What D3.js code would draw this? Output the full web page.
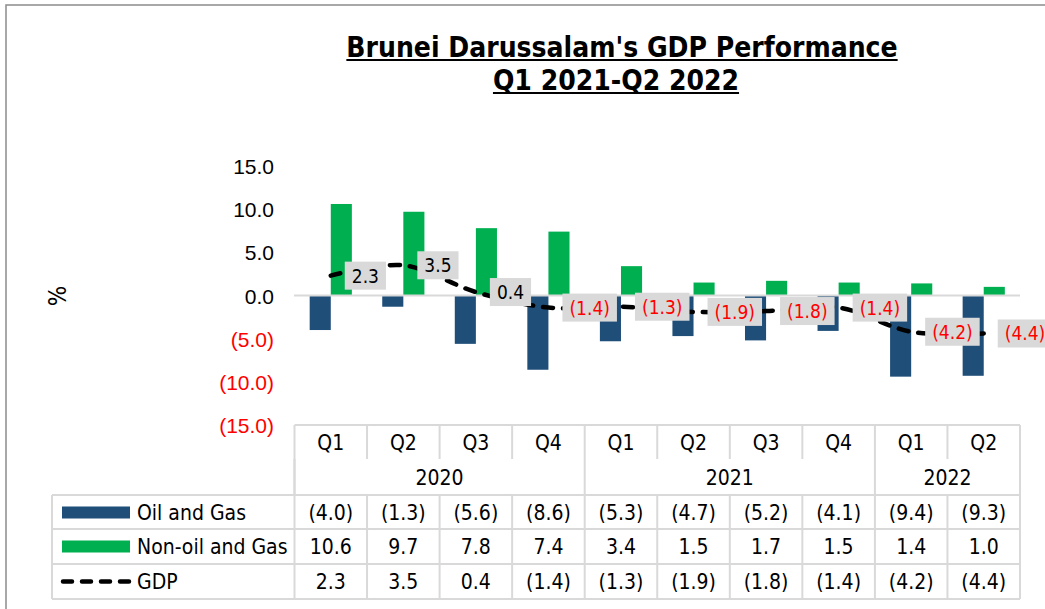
<!DOCTYPE html>
<html>
<head>
<meta charset="utf-8">
<script src="https://cdn.jsdelivr.net/npm/d3@7"></script>
<style>
  body { margin: 0; background: #fff; }
  svg { display: block; font-family: "DejaVu Sans Condensed", "DejaVu Sans", sans-serif; }
</style>
</head>
<body>
<div id="plot"></div>
<script>
const quarters = ["Q1", "Q2", "Q3", "Q4", "Q1", "Q2", "Q3", "Q4", "Q1", "Q2"];
const years = [{ year: "2020", from: 0, to: 4 }, { year: "2021", from: 4, to: 8 }, { year: "2022", from: 8, to: 10 }];
const oilGas = [-4.0, -1.3, -5.6, -8.6, -5.3, -4.7, -5.2, -4.1, -9.4, -9.3];
const nonOilGas = [10.6, 9.7, 7.8, 7.4, 3.4, 1.5, 1.7, 1.5, 1.4, 1.0];
const gdp = [2.3, 3.5, 0.4, -1.4, -1.3, -1.9, -1.8, -1.4, -4.2, -4.4];
const yTicks = [15, 10, 5, 0, -5, -10, -15];

const width = 1045, height = 609;
const oilColor = "#1f4e79", greenColor = "#00b050", gridColor = "#d9d9d9";
const fmt = v => v < 0 ? `(${Math.abs(v).toFixed(1)})` : v.toFixed(1);

const svg = d3.select("#plot").append("svg")
    .attr("width", width).attr("height", height)
    .attr("viewBox", `0 0 ${width} ${height}`);

// chart frame
svg.append("rect").attr("x", 6).attr("y", 5).attr("width", 1100).attr("height", 700)
    .attr("fill", "none").attr("stroke", "#8c8c8c").attr("stroke-width", 1.5);

// title, underlined
const titleLines = [{ t: "Brunei Darussalam's GDP Performance", x: 622, y: 57 }, { t: "Q1 2021-Q2 2022", x: 616, y: 90 }];
titleLines.forEach(l => {
  const tx = svg.append("text").attr("x", l.x).attr("y", l.y).attr("text-anchor", "middle")
      .attr("font-size", 28).attr("font-weight", "bold").text(l.t);
  const w = tx.node().getComputedTextLength();
  svg.append("line").attr("x1", l.x - w / 2).attr("x2", l.x + w / 2)
      .attr("y1", l.y + 3).attr("y2", l.y + 3).attr("stroke", "#000").attr("stroke-width", 2.2);
});

// scales
const xScale = d3.scaleBand().domain(d3.range(quarters.length)).range([294.5, 1020]);
const yScale = d3.scaleLinear().domain([-15, 15]).range([425, 166]);
const series = ["oil", "non"];
const inner = d3.scaleBand().domain(series).range([0, xScale.bandwidth()]).paddingOuter(0.72);

// y axis
const yAxis = svg.append("g").attr("transform", "translate(274,0)")
    .call(d3.axisLeft(yScale).tickValues(yTicks).tickFormat(d => d < 0 ? `(${Math.abs(d).toFixed(1)})` : d.toFixed(1)).tickSize(0).tickPadding(0));
yAxis.select(".domain").remove();
yAxis.selectAll("text").attr("font-size", 21).attr("dy", "0.36em")
    .attr("fill", d => d < 0 ? "#ff0000" : "#000");

svg.append("text").attr("transform", "translate(66,296) rotate(-90)").attr("text-anchor", "middle")
    .attr("font-size", 24).text("%");

// bars
const barG = svg.append("g");
barG.selectAll("rect.oil").data(oilGas).join("rect").attr("class", "oil")
    .attr("x", (d, i) => xScale(i) + inner("oil")).attr("width", inner.bandwidth())
    .attr("y", d => yScale(Math.max(0, d))).attr("height", d => Math.abs(yScale(d) - yScale(0)))
    .attr("fill", oilColor);
barG.selectAll("rect.non").data(nonOilGas).join("rect").attr("class", "non")
    .attr("x", (d, i) => xScale(i) + inner("non")).attr("width", inner.bandwidth())
    .attr("y", d => yScale(Math.max(0, d))).attr("height", d => Math.abs(yScale(d) - yScale(0)))
    .attr("fill", greenColor);

// zero line
svg.append("line").attr("x1", 294).attr("x2", 1020).attr("y1", yScale(0)).attr("y2", yScale(0))
    .attr("stroke", gridColor).attr("stroke-width", 2);

// GDP line
const cx = i => xScale(i) + xScale.bandwidth() / 2;
const line = d3.line().x((d, i) => cx(i)).y(d => yScale(d)).curve(d3.curveCatmullRom.alpha(0.5));
svg.append("path").datum(gdp).attr("d", line).attr("fill", "none")
    .attr("stroke", "#000").attr("stroke-width", 4.5).attr("stroke-linecap", "round")
    .attr("stroke-dasharray", "10,10");

// GDP data labels
const labG = svg.append("g").selectAll("g").data(gdp).join("g")
    .attr("transform", (d, i) => `translate(${cx(i) + 14},${yScale(d)})`);
labG.each(function (d) {
  const g = d3.select(this);
  const t = g.append("text").attr("x", 7).attr("y", 7).attr("font-size", 19)
      .attr("fill", d < 0 ? "#ff0000" : "#000").text(fmt(d));
  const w = t.node().getComputedTextLength();
  g.insert("rect", "text").attr("x", 0).attr("y", -14).attr("width", w + 14).attr("height", 28)
      .attr("fill", gridColor);
});

// data table
const rowTop = { q: 425, yr: 459, oil: 495, non: 529, gdp: 564, end: 599 };
const tbl = svg.append("g").attr("stroke", gridColor).attr("stroke-width", 2);
const left = xScale(0), right = xScale.range()[1];
// horizontal lines
tbl.append("line").attr("x1", left).attr("x2", right).attr("y1", rowTop.q).attr("y2", rowTop.q);
[rowTop.oil, rowTop.non, rowTop.gdp, rowTop.end].forEach(y =>
  tbl.append("line").attr("x1", 52).attr("x2", right).attr("y1", y).attr("y2", y));
// quarter separators in the quarter row
d3.range(1, quarters.length).forEach(i =>
  tbl.append("line").attr("x1", xScale(i)).attr("x2", xScale(i)).attr("y1", rowTop.q).attr("y2", rowTop.yr));
// year separators
years.forEach(y => {
  tbl.append("line").attr("x1", xScale(y.from)).attr("x2", xScale(y.from)).attr("y1", rowTop.yr).attr("y2", rowTop.oil);
});
[left, right].forEach(x =>
  tbl.append("line").attr("x1", x).attr("x2", x).attr("y1", rowTop.q).attr("y2", rowTop.end));
// body verticals
d3.range(1, quarters.length).forEach(i =>
  tbl.append("line").attr("x1", xScale(i)).attr("x2", xScale(i)).attr("y1", rowTop.oil).attr("y2", rowTop.end));
tbl.append("line").attr("x1", 52).attr("x2", 52).attr("y1", rowTop.oil).attr("y2", rowTop.end);

const txt = svg.append("g").attr("font-size", 21).attr("text-anchor", "middle");
quarters.forEach((q, i) => txt.append("text").attr("x", cx(i)).attr("y", 450).text(q));
years.forEach(y => txt.append("text").attr("x", (xScale(y.from) + (y.to === quarters.length ? right : xScale(y.to))) / 2)
    .attr("y", 485).text(y.year));

const rows = [
  { name: "Oil and Gas", vals: oilGas, top: rowTop.oil, type: "bar", color: oilColor },
  { name: "Non-oil and Gas", vals: nonOilGas, top: rowTop.non, type: "bar", color: greenColor },
  { name: "GDP", vals: gdp, top: rowTop.gdp, type: "line" }
];
rows.forEach(r => {
  const ym = r.top + 17.5;
  r.vals.forEach((v, i) => txt.append("text").attr("x", cx(i)).attr("y", ym + 7.5).text(fmt(v)));
  if (r.type === "bar") {
    svg.append("rect").attr("x", 62).attr("y", ym - 6).attr("width", 68).attr("height", 12).attr("fill", r.color);
  } else {
    svg.append("line").attr("x1", 63).attr("x2", 130).attr("y1", ym).attr("y2", ym)
        .attr("stroke", "#000").attr("stroke-width", 4.5).attr("stroke-linecap", "round").attr("stroke-dasharray", "9,10");
  }
  svg.append("text").attr("x", 137).attr("y", ym + 7.5).attr("font-size", 21).text(r.name);
});
</script>
</body>
</html>
